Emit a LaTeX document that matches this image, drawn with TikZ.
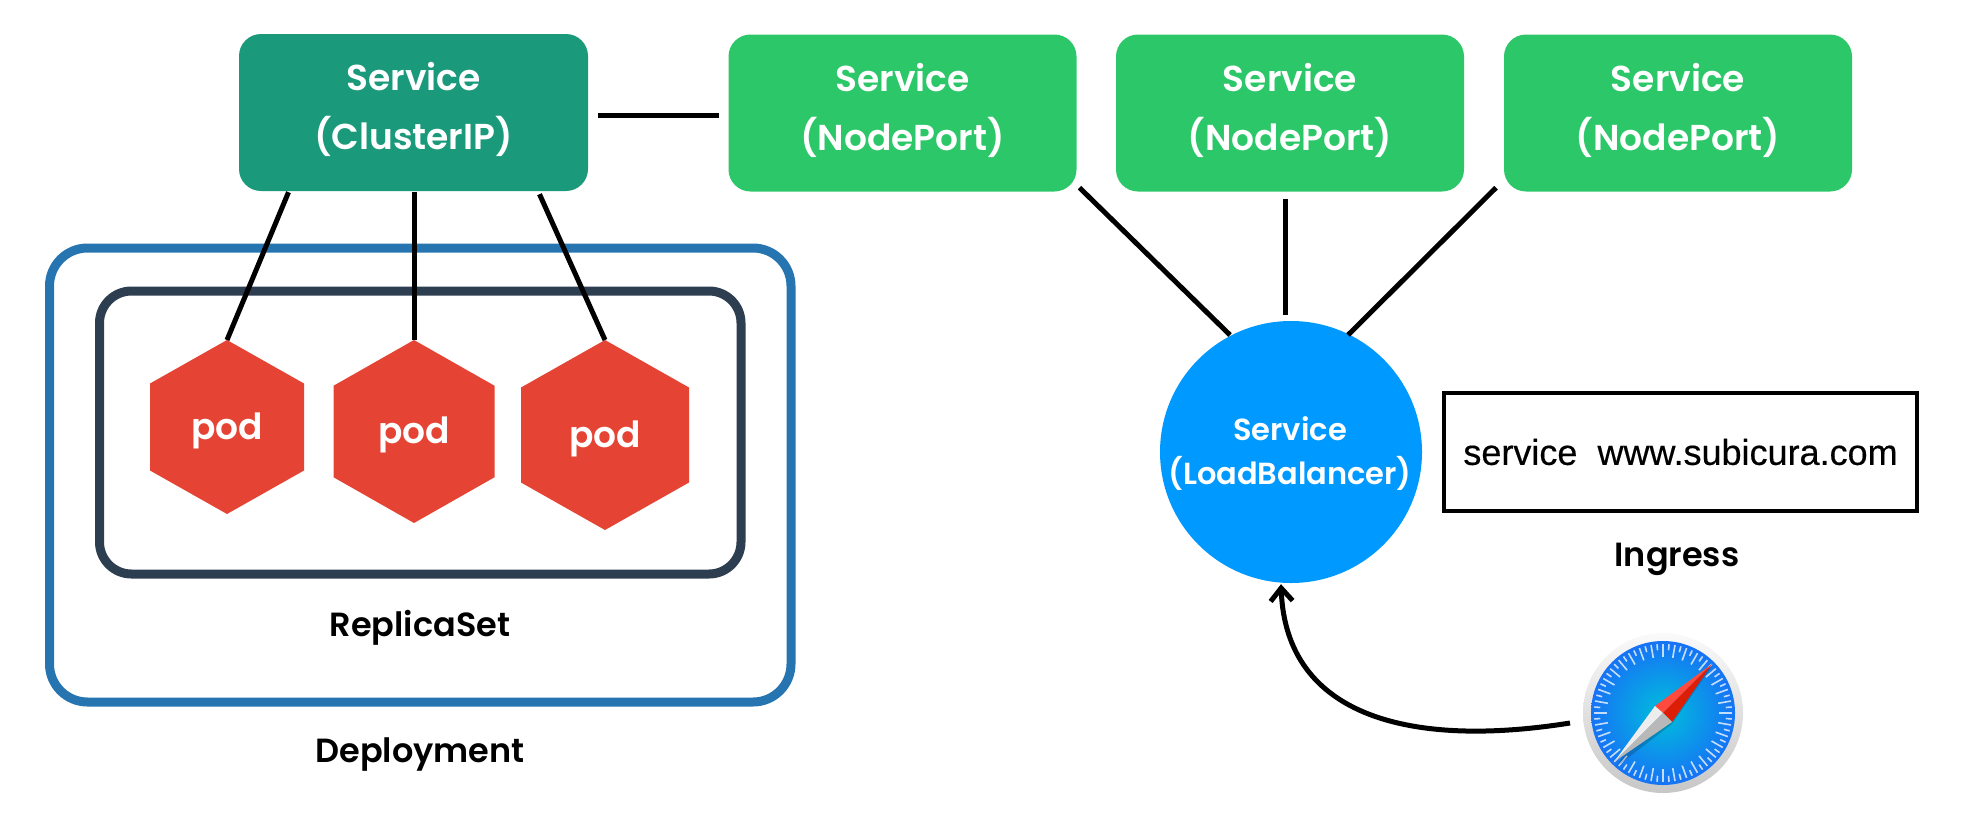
\documentclass[tikz,border=0pt]{standalone}
\usepackage{fontspec}
\usetikzlibrary{arrows.meta,calc}
\setmainfont{Poppins}[BoldFont={Poppins SemiBold}]
\newfontfamily\ingfont{Liberation Sans}[BoldFont={Liberation Sans},BoldFeatures={FakeBold=0.4}]
\definecolor{clusterc}{HTML}{1A9A7B}
\definecolor{nodec}{HTML}{2CC768}
\definecolor{podc}{HTML}{E54334}
\definecolor{lbc}{HTML}{0099FF}
\definecolor{depc}{HTML}{2775B0}
\definecolor{repc}{HTML}{2C3E50}
\definecolor{safin}{HTML}{00BEDC}
\definecolor{safout}{HTML}{1673F5}
\definecolor{redlt}{HTML}{FF4A3D}
\definecolor{reddk}{HTML}{DC1E06}
\tikzset{
  svc/.style={rounded corners=22pt,text=white,align=center,font=\fontsize{36}{59}\selectfont\bfseries,minimum width=349pt,minimum height=157pt,inner sep=0pt,text depth=13pt},
  frame/.style={draw,line width=9pt,rounded corners=38pt,fill=none},
  wire/.style={draw=black,line width=5pt},
  caplabel/.style={text=black,font=\fontsize{33.5}{40}\selectfont\bfseries,inner sep=0pt},
  podtxt/.style={text=white,font=\fontsize{36}{42}\selectfont\bfseries,inner sep=0pt}
}
\newcommand{\podhex}[5]{% name cx top w h
  \fill[podc] (#2,#3) -- (#2+#4/2,#3+#5/4) -- (#2+#4/2,#3+3*#5/4) -- (#2,#3+#5) -- (#2-#4/2,#3+3*#5/4) -- (#2-#4/2,#3+#5/4) -- cycle;
  \coordinate (#1-top) at (#2,#3);
  \node[podtxt] (#1) at (#2,#3+#5/2+3.5) {pod};
}
\begin{document}
\begin{tikzpicture}[x=1pt,y=-1pt]
\useasboundingbox (0,0) rectangle (1961,814);
% frames
\draw[frame,draw=depc] (49.5,248) rectangle (791,702);
\draw[frame,draw=repc,rounded corners=32pt] (99.5,291) rectangle (741,574);
% services
\node[svc,fill=clusterc] (cip) at (413.5,112.5) {Service\\(ClusterIP)};
\node[svc,fill=nodec,minimum width=348pt] (np1) at (902.5,113) {Service\\(NodePort)};
\node[svc,fill=nodec,minimum width=348pt] (np2) at (1290,113) {Service\\(NodePort)};
\node[svc,fill=nodec,minimum width=348pt] (np3) at (1678,113) {Service\\(NodePort)};
% pods
\podhex{pod1}{227}{340}{154}{174}
\podhex{pod2}{414}{340}{161}{183}
\podhex{pod3}{605}{340}{168}{190}
% load balancer
\node[circle,fill=lbc,minimum size=262pt,inner sep=0pt] (lb) at (1291,452) {};
\node[text=white,align=center,font=\fontsize{30.5}{44}\selectfont\bfseries,inner sep=0pt] (lbt) at (1290,454) {Service\\(LoadBalancer)};
% ingress
\node[draw=black,line width=4pt,minimum width=473pt,minimum height=118pt,inner sep=0pt,font=\ingfont\bfseries\fontsize{36}{40}\selectfont] (ing) at (1680.5,452) {service\hspace{0.56em}www.subicura.com};
\node[caplabel] (ingl) at (1677,559) {Ingress};
\node[caplabel] (repl) at (420,628) {ReplicaSet};
\node[caplabel] (depl) at (420,755) {Deployment};
% connectors
\path[wire] ($(cip.east)+(10,2.5)$) -- ($(np1.west)+(-9,2)$);
\path[wire] ($(cip.south)+(-125,1)$) -- (pod1-top);
\path[wire] ($(cip.south)+(0.5,1)$) -- (pod2-top);
\path[wire] ($(cip.south)+(126,3)$) -- (pod3-top);
\path[wire] ($(np1.south)+(177,-4)$) -- ($(lb.center)+(-61,-117)$);
\path[wire] ($(np2.south)+(-5,7)$) -- ($(lb.center)+(-6,-137)$);
\path[wire] ($(np3.south)+(-182,-4)$) -- ($(lb.center)+(57,-117)$);
% safari icon
\node[circle,minimum size=160pt,inner sep=0pt] (saf) at (1663,713) {};
\shade[top color=white!96!gray,bottom color=black!22] (saf.center) circle[radius=80pt];
\shade[inner color=safin,outer color=safout] (saf.center) circle[radius=72pt];
\begin{scope}[shift={(saf.center)}]
  \foreach \a in {0,10,...,350}{\draw[white,opacity=.75,line width=1.6pt] (\a:56pt) -- (\a:69pt);}
  \foreach \a in {5,15,...,355}{\draw[white,opacity=.75,line width=1.6pt] (\a:63pt) -- (\a:69pt);}
  \fill[black,opacity=.18] (49,-47) -- (9,11) -- (-47,54) -- (-8,-5) -- cycle;
  \fill[redlt] (49,-49) -- (-8,-7) -- (0,0) -- cycle;
  \fill[reddk] (49,-49) -- (0,0) -- (9,9) -- cycle;
  \fill[white!93!black] (-49,49) -- (-8,-7) -- (0,0) -- cycle;
  \fill[black!28] (-49,49) -- (0,0) -- (9,9) -- cycle;
\end{scope}
% arrow
\draw[wire,-{Straight Barb[length=13pt,width=22pt,line width=5pt]}] ($(saf.center)+(-93,10)$) .. controls ($(saf.center)+(-250,35)$) and ($(lb.south)+(-5,135)$) .. ($(lb.south)+(-10,1)$);
\end{tikzpicture}
\end{document}
